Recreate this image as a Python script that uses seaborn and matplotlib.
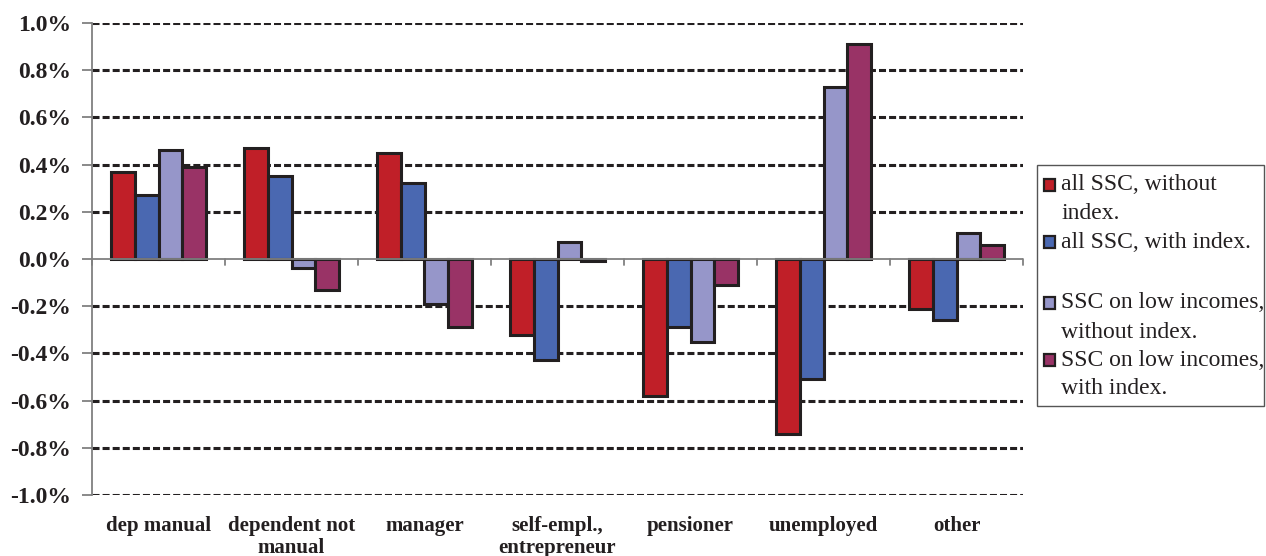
import matplotlib
matplotlib.use("Agg")
import matplotlib.pyplot as plt
import seaborn as sns
import pandas as pd
from matplotlib.patches import Rectangle
from matplotlib.ticker import FuncFormatter, MultipleLocator

categories = ["dep manual", "dependent not\nmanual", "manager", "self-empl.,\nentrepreneur",
              "pensioner", "unemployed", "other"]
series_names = ["all SSC, without index.", "all SSC, with index.",
                "SSC on low incomes, without index.", "SSC on low incomes, with index."]
all_ssc_without = [0.37, 0.47, 0.45, -0.32, -0.58, -0.74, -0.21]
all_ssc_with = [0.27, 0.35, 0.32, -0.43, -0.29, -0.51, -0.26]
low_without = [0.46, -0.04, -0.19, 0.07, -0.35, 0.73, 0.11]
low_with = [0.39, -0.13, -0.29, -0.01, -0.11, 0.91, 0.06]
colors = ["#C01F28", "#4A68B1", "#9696C9", "#993366"]
legend_lines = [["all SSC, without", "index."], ["all SSC, with index.", ""],
                ["SSC on low incomes,", "without index."], ["SSC on low incomes,", "with index."]]

rows = []
for name, vals in zip(series_names, [all_ssc_without, all_ssc_with, low_without, low_with]):
    for c, v in zip(categories, vals):
        rows.append({"category": c, "series": name, "value": v})
df = pd.DataFrame(rows)

sns.set_theme(style="white")
plt.rcParams["font.family"] = ["Liberation Serif", "DejaVu Serif"]

fig = plt.figure(figsize=(12.66, 5.56), dpi=100)
ax = fig.add_axes([92 / 1266, 61 / 556, (1023 - 92) / 1266, (495 - 23) / 556])

sns.barplot(data=df, x="category", y="value", hue="series", order=categories,
            hue_order=series_names, palette=colors, saturation=1, width=0.72, ax=ax,
            edgecolor="#231F20", linewidth=2.2, legend=False, zorder=3)

ax.set_ylim(-1.0, 1.0)
ax.set_xlim(-0.5, len(categories) - 0.5)
ax.yaxis.set_major_locator(MultipleLocator(0.2))
ax.yaxis.set_major_formatter(FuncFormatter(lambda v, p: f"{v:.1f}%"))
for yv in [-1.0, -0.8, -0.6, -0.4, -0.2, 0.2, 0.4, 0.6, 0.8, 1.0]:
    ax.axhline(yv, color="#231F20", linestyle=(0, (2.3, 1.0)), linewidth=2.2, zorder=1)
ax.axhline(0, color="#808080", linewidth=1.3, zorder=4)
# category separators on zero line
for i in range(len(categories) + 1):
    ax.plot([i - 0.5, i - 0.5], [0, -0.025], color="#808080", linewidth=1.3, zorder=4, clip_on=False)

for s in ["top", "right", "bottom"]:
    ax.spines[s].set_visible(False)
ax.spines["left"].set_color("#808080")
ax.spines["left"].set_linewidth(1.3)
ax.tick_params(axis="y", left=True, length=7, width=1.3, color="#808080", pad=8)
ax.tick_params(axis="x", bottom=False, pad=9)
ax.set_xlabel("")
ax.set_ylabel("")
for lab in ax.get_yticklabels():
    lab.set_fontsize(17)
    lab.set_fontweight("bold")
    lab.set_color("#231F20")
ax.set_xticks(range(len(categories)))
ax.set_xticklabels(categories, fontsize=15, fontweight="bold", color="#231F20",
                   linespacing=1.15)

# manual legend
W, H = 1266, 556
box = Rectangle((1037 / W, 1 - 406 / H), (1264 - 1037) / W, (406 - 165) / H,
                transform=fig.transFigure, facecolor="white", edgecolor="#555555", linewidth=1.0)
fig.patches.append(box)
line_ys = [[185, 213], [242, 270], [303, 332], [360, 388]]
for col, lines, ys in zip(colors, legend_lines, line_ys):
    fig.patches.append(Rectangle((1044 / W, 1 - (ys[0] + 6) / H), 11 / W, 12 / H,
                                 transform=fig.transFigure, facecolor=col,
                                 edgecolor="#231F20", linewidth=1.6))
    for t, yy in zip(lines, ys):
        if t:
            fig.text(1061 / W, 1 - yy / H, t, fontsize=17, color="#231F20",
                     va="center", ha="left")

fig.savefig("out.png", dpi=100)
